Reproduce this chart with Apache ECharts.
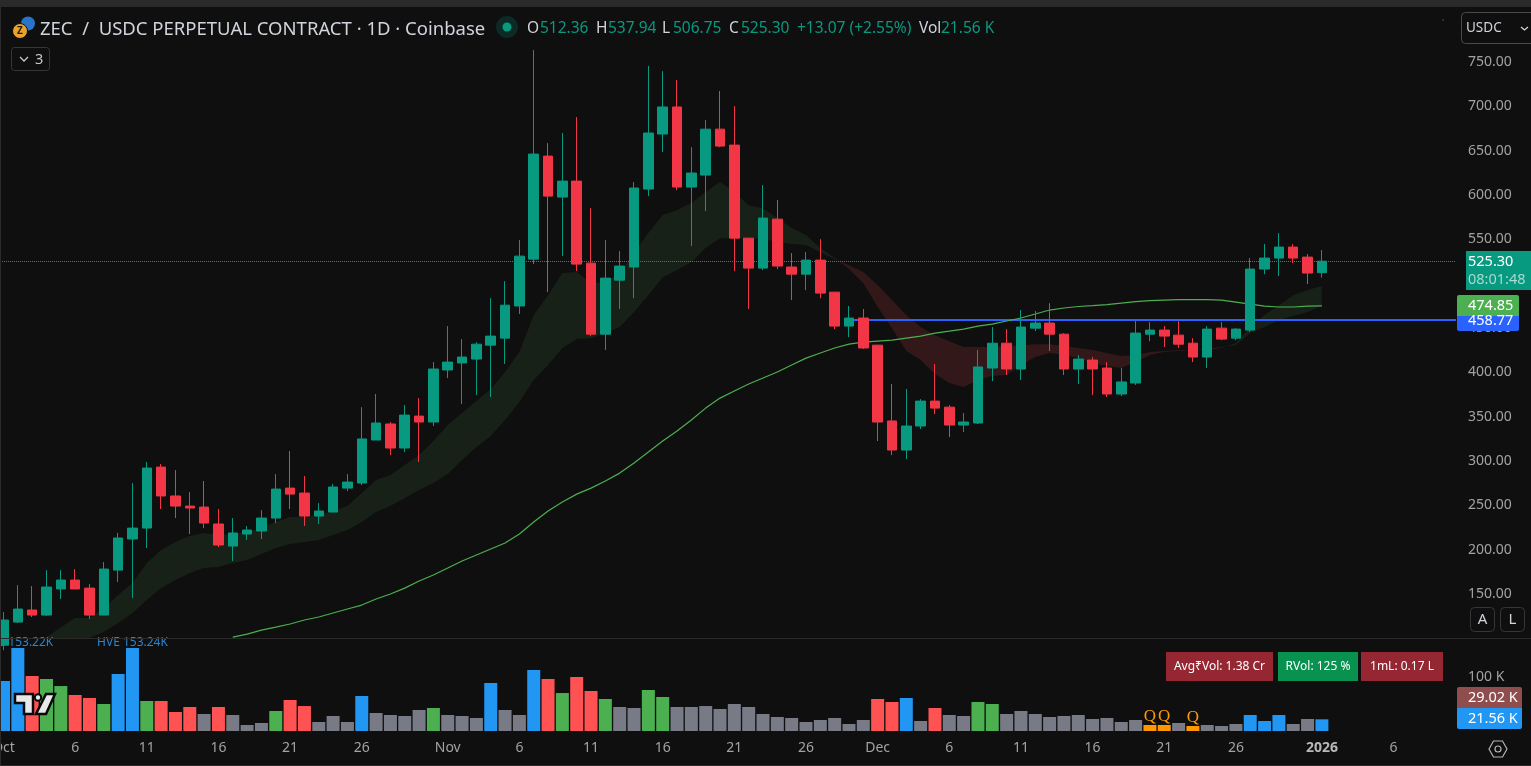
<!DOCTYPE html>
<html>
<head>
<meta charset="utf-8">
<style>html,body{margin:0;padding:0;background:#0f0f0f;overflow:hidden}#main{width:1531px;height:766px}</style>
<script src="https://cdn.jsdelivr.net/npm/echarts@6/dist/echarts.min.js"></script>
</head>
<body>
<div id="main"></div>
<script>
// daily bars, Oct 1 -> Jan 1, the rest of the axis is empty space on the right
var categories = ['Oct','2','3','4','5','6','7','8','9','10','11','12','13','14','15','16','17','18','19','20','21','22','23','24','25','26','27','28','29','30','31',
	'Nov','2','3','4','5','6','7','8','9','10','11','12','13','14','15','16','17','18','19','20','21','22','23','24','25','26','27','28','29','30',
	'Dec','2','3','4','5','6','7','8','9','10','11','12','13','14','15','16','17','18','19','20','21','22','23','24','25','26','27','28','29','30','31',
	'2026','2','3','4','5','6','7','8','9','10'];
var shownDays = ['Oct','Nov','Dec','2026','6','11','16','21','26'];

var opens = [92.3,118.3,131.9,126.2,155.6,165.7,156.6,126.2,176.9,212,224.3,293.1,260.5,249.1,248,228.9,204,217.6,221,235.6,269.4,263.8,237.9,242.4,269.4,275.1,323.6,341.7,314.6,350.6,343.9,402.6,410.5,414.9,430.6,438.5,474.8,527.6,643.8,597.6,615.6,523.1,443,503.9,518.7,606.6,668.7,699.2,608.9,622.4,674.2,656.2,551.3,517.5,572.7,518.7,510.7,526.5,490.4,452.1,461.2,430.6,345.1,312.3,339.4,367.5,360.7,340.5,342.8,404.8,432.8,403.7,449.8,455.5,443,403.7,413.8,404.8,375.5,387.9,443,447.6,441.9,432.8,417.2,449.8,438.5,447.6,516.4,528.8,541.2,529.9,512.36];
var highs = [129.6,160,158.9,176.9,176.9,178.1,161.2,186,218.8,275.1,298.8,296.5,289.7,264.9,277.4,245.8,235.6,226.6,244.6,285.2,311.2,283,252.5,274,285.2,360.7,375.5,343.9,363,370.9,411.5,452.1,437.4,434,483.6,502.8,549.1,763.4,658.5,669.8,687.8,585.1,549.1,536.7,614.5,745.4,739.7,729.6,653.9,684.4,717.2,700.2,551.3,611.1,594.2,534.4,535.6,550.2,490.4,474.8,471.4,430.6,386.8,381.1,369.8,409.4,363,354,425.1,451,448.7,470.2,469.1,478,444.2,419.4,417.2,411.5,404.8,457.8,456.6,452.1,457.8,438.5,452.1,456.6,449.8,528.8,544.6,557,544.6,533.3,537.94];
var lows = [86.6,117.2,124,125.1,144.3,155.6,121.7,126.2,163.4,145.4,201.8,245.8,235.6,217.6,224.3,202.9,187.1,210.8,212,230,245.8,226.6,228.9,242.4,266,272.8,323.6,306.6,310,298.8,339.4,393.5,364.1,374.3,372.1,409.4,465.7,522,490.4,531,514.1,440.8,425.1,471.4,483.6,598.7,648.4,605.5,542.4,581.8,653.9,514.1,471.4,515.3,516.4,481.4,492.7,483.6,448.7,439.6,426.2,322.5,306.6,302.1,336,352.8,326.9,332.6,341.7,390.1,396.9,391.2,446.4,424,396.9,386.8,374.3,372.1,373.2,385.7,435.1,428.5,427.4,411.5,404.8,436.2,436.2,445.3,510.7,508.5,523.1,499.5,506.75];
var closes = [120.6,133,126.2,157.8,165.7,155.6,126.2,178.1,213.1,224.3,292,260.5,249.1,246.9,230,205.2,218.8,222.1,235.6,268.3,262.6,237.9,243.5,270.6,276.2,324.8,342.8,314.6,351.7,343.9,403.7,411.5,417.2,431.7,440.8,475.7,531,646.1,598.7,615.6,522,443,506.2,519.8,607.8,669.8,699.2,608.9,624.7,674.2,655.1,551.3,517.5,573.9,519.8,510.7,526.5,489.3,452.1,461.2,427.4,343.9,312.3,339.4,367.5,359.6,340.5,343.9,406,432.8,403.7,451,455.5,443,403.7,414.9,403.7,375.5,389.1,444.2,447.6,440.8,431.7,417.2,448.7,437.4,448.7,516.4,528.8,541.2,528.8,511.9,525.3];

// the two edges of the shaded ribbon
var ribbonFast = [null,null,86.6,101.3,112.6,122.8,122.8,134.2,148.8,162.3,184.9,199.6,208.6,215.4,218.8,216.5,217.6,219.9,224.3,231.1,236.8,236.8,239.1,243.5,249.1,263.8,278.5,284.2,295.4,306.6,322.5,340.5,354,367.5,381.1,400.3,422.8,464.6,487,511.9,513,500.5,501.7,511.9,534.4,557,577.3,582.9,590.8,603.2,614.5,603.2,588.5,585.1,573.9,562.7,554.7,540.1,528.8,516.4,500.5,473.6,449.8,424,413.8,398,387.9,383.4,391.2,395.8,396.9,408.2,417.2,421.7,419.4,416,410.5,407.1,404.8,411.5,419.4,422.8,424,425.1,425.1,427.4,432.8,451,464.6,475.7,487,492.7,497.2];
var ribbonSlow = [null,null,72.9,79.8,86.6,93.4,100.2,107,117.2,128.5,143.1,156.6,165.7,173.6,179.2,180.3,184.9,188.3,195.1,201.8,206.3,208.6,210.8,216.5,222.1,231.1,242.4,249.1,258.2,267.2,275.1,285.2,301.1,315.7,328.1,346.2,366.4,391.2,408.2,427.4,437.4,438.5,444.2,451,468,487,507.3,515.3,524.2,540.1,551.3,551.3,551.3,550.2,546.8,544.6,543.5,535.6,527.6,520.8,513,498.4,481.4,464.6,451,441.9,435.1,428.5,428.5,428.5,429.6,430.6,431.7,431.7,429.6,427.4,425.1,421.7,418.3,419.4,422.8,424,425.1,425.1,426.2,428.5,430.6,444.2,451,458.9,463.4,468,474.8];
var ribbonRegions = [[2, 58, '#172117'], [58, 85, '#321818'], [85, 92, '#172117']];

var emaLong = [null,null,null,null,null,null,null,null,null,null,null,null,null,null,null,null,101.3,104.7,109.2,112.6,116.1,120.6,124,128.5,133,137.5,144.3,150,156.6,164.6,171.4,179.2,187.1,193.9,200.7,207.4,217.6,231.1,243.5,253.7,262.6,269.4,277.4,286.3,297.7,310,322.5,333.7,346.2,359.6,370.9,378.9,386.8,393.5,400.3,408.2,416,421.7,427.4,431.7,434,435.1,436.2,438.5,440.8,444.2,446.4,448.7,452.1,454.4,457.8,461.2,465.7,470.2,472.5,474.2,475.1,476.3,478,479.7,480.8,481.4,481.9,481.9,481.9,481.4,479.1,476.8,474.6,473.6,473.6,474.6,474.85];

// volume in K, and which colour each bar got: b blue, r red, g green, n grey, o orange
var volumes = [92.3,153.22,101.5,96,83,66.5,61,49.8,105.2,153.24,55.4,55.4,35.1,44.3,31.4,44.3,29.5,11.1,14.8,36.9,57.2,46.1,16.6,27.7,16.6,64.6,33.2,29.5,27.7,38.8,42.5,29.5,27.7,24,88.6,38.8,29.5,112.6,96,70.1,99.7,73.8,59.1,44.3,42.5,75.7,62.8,44.3,44.3,46.1,40.6,49.8,44.3,31.4,25.8,24,16.6,20.3,24,12.9,20.3,59.1,53.5,60.9,18.5,42.5,29.5,27.7,53.5,49.8,31.4,36.9,31.4,25.8,27.7,29.5,22.2,24,16.6,20.3,11.1,11.1,14.8,9.2,11.1,9.2,12.9,29.5,18.5,29.5,12.9,22.2,21.56];
var volumeKinds = ('bbrggrrgbb'+'grrrnrnnng'+'rrnnnbnnnn'+'gnnnbnnbrg'+'rrgnnggnnn'+'nnnnnnnnnn'+'nrrbnrnngg'+'nnnnnnnnnn'+'oononnnbbb'+'nnb').split('');
var volumeColors = {b:'#2196f3', r:'#ff5252', g:'#4caf50', n:'#787b86', o:'#ff9800'};
var hveBars = {1:'HVE 153.22K', 9:'HVE 153.24K'};
var quietBars = [80, 81, 83];

var lastPrice = 525.30;
var levelPrice = 458.77;

var UI_FONT = '"Noto Sans", sans-serif';
var UP = '#089981', DOWN = '#f23645';

var myChart = echarts.init(document.getElementById('main'), null, {renderer:'canvas'});

function txt(x, y, s, color, size, extra) {
	var st = {x:x, y:y, text:s, fill:color, font:(size||14)+'px '+UI_FONT, textVerticalAlign:'middle'};
	for (var k in extra) st[k] = extra[k];
	return {type:'text', z:100, style:st};
}
function box(x, y, w, h, fill, stroke, r) {
	return {type:'rect', z:99, shape:{x:x, y:y, width:w, height:h, r:r||0}, style:{fill:fill, stroke:stroke||null, lineWidth:1}};
}

var graphics = [
	box(0, 0, 1531, 7, '#2a2a2a'),
	box(0, 638, 1531, 1, '#2a2a2a'),
	box(0, 765, 1531, 1, '#2a2a2a'),
	box(0, 7, 1, 759, '#2a2a2a'),
	// coin icons
	{type:'circle', z:99, shape:{cx:28, cy:23.5, r:7}, style:{fill:'#2775ca'}},
	{type:'circle', z:99, shape:{cx:20, cy:31, r:7.5}, style:{fill:'#e8a32c', stroke:'#0f0f0f', lineWidth:1}},
	txt(20, 31.5, 'Z', '#2b1c06', 10, {textAlign:'center', font:'bold 10px '+UI_FONT}),
	txt(40, 29.5, 'ZEC  /  USDC PERPETUAL CONTRACT · 1D · Coinbase', '#d1d4dc', 18.5),
	{type:'circle', z:99, shape:{cx:507, cy:27, r:11}, style:{fill:'#0d2a25'}},
	{type:'circle', z:99, shape:{cx:507, cy:27, r:4.5}, style:{fill:'#089981'}},
	txt(527, 28.5, 'O', '#d1d4dc', 15.5), txt(540, 28.5, '512.36', UP, 15.5),
	txt(596, 28.5, 'H', '#d1d4dc', 15.5), txt(608, 28.5, '537.94', UP, 15.5),
	txt(662, 28.5, 'L', '#d1d4dc', 15.5), txt(673, 28.5, '506.75', UP, 15.5),
	txt(729, 28.5, 'C', '#d1d4dc', 15.5), txt(741, 28.5, '525.30', UP, 15.5),
	txt(797, 28.5, '+13.07 (+2.55%)', UP, 15.5),
	txt(919, 28.5, 'Vol', '#d1d4dc', 15.5), txt(941, 28.5, '21.56 K', UP, 15.5),
	// collapsed indicators button
	box(11.5, 47.5, 38, 23, 'transparent', '#363636', 3),
	{type:'polyline', z:100, shape:{points:[[20,57],[24,61],[28,57]]}, style:{stroke:'#c8c8c8', lineWidth:1.3, fill:null}},
	txt(35, 59.5, '3', '#c8c8c8', 14.5),
	// currency button
	box(1461.5, 12.5, 80, 31, 'transparent', '#4a4a4a', 4),
	txt(1466, 28.5, 'USDC', '#d1d4dc', 13.5),
	{type:'polyline', z:100, shape:{points:[[1521,27],[1524.5,30],[1528,27]]}, style:{stroke:'#d1d4dc', lineWidth:1.3, fill:null}},
	{type:'circle', z:99, shape:{cx:1443, cy:20, r:1}, style:{fill:'#3a3a44'}},
	// A and L buttons
	box(1470.5, 607.5, 24, 24, 'transparent', '#363636', 4), txt(1482.5, 620, 'A', '#d1d4dc', 15, {textAlign:'center'}),
	box(1500.5, 607.5, 24, 24, 'transparent', '#363636', 4), txt(1512.5, 620, 'L', '#d1d4dc', 15, {textAlign:'center'}),
	// last price and level tags
	box(1466, 251, 65, 39, UP),
	txt(1468, 262, '525.30', '#ffffff', 14.5),
	txt(1468, 280, '08:01:48', '#a6dbcf', 14.5),
	box(1457, 295, 62, 21, '#4caf50', null, [2,2,0,0]),
	txt(1468, 306, '474.85', '#ffffff', 14.5),
	box(1457, 316, 62, 15, '#2962ff', null, [0,0,2,2]),
	txt(1468, 321, '458.77', '#ffffff', 14.5),
	box(1457, 687, 65, 21, '#8f4d4d', null, [2,2,0,0]),
	txt(1468, 697.5, '29.02 K', '#ffffff', 14.5),
	box(1457, 708, 65, 21, '#2196f3', null, [0,0,2,2]),
	txt(1468, 718.5, '21.56 K', '#ffffff', 14.5),
	// small stat badges in the volume pane
	box(1166, 652, 107, 29, '#952733'), txt(1219.5, 666.5, 'Avg₹Vol: 1.38 Cr', '#ffffff', 12, {textAlign:'center'}),
	box(1278, 652, 80, 29, '#08914f'), txt(1318, 666.5, 'RVol: 125 %', '#ffffff', 12, {textAlign:'center'}),
	box(1361, 652, 82, 29, '#952733'), txt(1402, 666.5, '1mL: 0.17 L', '#ffffff', 12, {textAlign:'center'}),
	// settings hexagon
	{type:'polygon', z:100, shape:{points:[[1489,749],[1493.5,741],[1502.5,741],[1507,749],[1502.5,757],[1493.5,757]]}, style:{fill:'transparent', stroke:'#b4b4b4', lineWidth:1.2}},
	{type:'circle', z:100, shape:{cx:1498, cy:749, r:3}, style:{fill:'transparent', stroke:'#b4b4b4', lineWidth:1.2}},
	// logo
	{type:'polygon', z:101, shape:{points:[[15,694],[33,694],[33,714],[24,714],[24,703],[15,703]]}, style:{fill:'#e8e8e8', stroke:'#0a0a0a', lineWidth:2.5}},
	{type:'circle', z:101, shape:{cx:38, cy:697.5, r:3.2}, style:{fill:'#e8e8e8', stroke:'#0a0a0a', lineWidth:2}},
	{type:'polygon', z:101, shape:{points:[[46,694],[55,694],[46,714],[36,714]]}, style:{fill:'#e8e8e8', stroke:'#0a0a0a', lineWidth:2.5}}
];

// one polygon per ribbon region, drawn from the row where the region starts
function renderRibbon(params, api) {
	var i = api.value(0);
	var region = ribbonRegions.filter(function (r) { return r[0] === i; })[0];
	if (!region) return null;
	var pts = [], j;
	for (j = region[0]; j <= region[1]; j++) pts.push(api.coord([j, ribbonFast[j]]));
	for (j = region[1]; j >= region[0]; j--) pts.push(api.coord([j, ribbonSlow[j]]));
	return {type:'polygon', shape:{points:pts}, style:{fill:region[2]}};
}

var ribbonRows = [];
ribbonFast.forEach(function (v, i) { if (v != null) ribbonRows.push([i, v, ribbonSlow[i]]); });

var candleRows = opens.map(function (o, i) { return [o, closes[i], lows[i], highs[i]]; });

var volumeRows = volumes.map(function (v, i) {
	var item = {value:v, itemStyle:{color:volumeColors[volumeKinds[i]]}};
	if (hveBars[i]) item.label = {show:true, position:'top', distance:-1, formatter:hveBars[i], color:'#2a85d0', fontSize:12, fontFamily:UI_FONT};
	if (quietBars.indexOf(i) >= 0) item.label = {show:true, position:'top', distance:0, formatter:'Q', color:'#ff9800', fontSize:17, fontFamily:'"Liberation Serif", serif'};
	return item;
});

var option = {
	backgroundColor:'#0f0f0f',
	animation:false,
	graphic:{elements:graphics},
	grid:[
		{left:-3.67, top:17.6, width:1461.7, height:620.7, outerBoundsMode:'none'},
		{left:-3.67, top:638, width:1461.7, height:93, outerBoundsMode:'none'}
	],
	xAxis:[
		{type:'category', gridIndex:0, data:categories, show:false},
		{type:'category', gridIndex:1, data:categories,
			axisLine:{show:false}, axisTick:{show:false},
			axisLabel:{
				interval:function (i, v) { return shownDays.indexOf(v) >= 0; },
				margin:10, color:'#a3a3a3', fontSize:14, fontFamily:UI_FONT, hideOverlap:false,
				formatter:function (v) { return v === '2026' ? '{y|2026}' : v; },
				rich:{y:{fontWeight:'bold', color:'#b8b8b8', fontSize:14, fontFamily:UI_FONT}}
			}
		}
	],
	yAxis:[
		{type:'value', gridIndex:0, position:'right', min:100, max:800, interval:50, splitLine:{show:false}, axisLine:{show:false}, axisTick:{show:false},
			axisLabel:{margin:10, color:'#a3a3a3', fontSize:14, fontFamily:UI_FONT, formatter:function (v) { return (v < 150 || v > 750) ? '' : v.toFixed(2); }}},
		{type:'value', gridIndex:1, position:'right', min:0, max:171.7, interval:100, splitLine:{show:false}, axisLine:{show:false}, axisTick:{show:false},
			axisLabel:{margin:10, color:'#a3a3a3', fontSize:14, fontFamily:UI_FONT, formatter:function (v) { return v === 100 ? '100 K' : ''; }}}
	],
	series:[
		{type:'custom', name:'ribbon', xAxisIndex:0, yAxisIndex:0, z:1, clip:true, silent:true, renderItem:renderRibbon, encode:{x:0, y:[1,2]}, data:ribbonRows},
		{type:'line', name:'ema', xAxisIndex:0, yAxisIndex:0, z:2, data:emaLong, showSymbol:false, silent:true, lineStyle:{color:'#4caf50', width:1.2},
			markLine:{silent:true, symbol:'none', z:2, label:{show:false}, animation:false, data:[
				[{xAxis:0, yAxis:lastPrice, x:0, lineStyle:{color:UP, type:'dotted', width:1}}, {xAxis:101, yAxis:lastPrice, x:1456}],
				[{xAxis:59, yAxis:levelPrice, lineStyle:{color:'#2962ff', type:'solid', width:2}}, {xAxis:101, yAxis:levelPrice, x:1456}]
			]}
		},
		{type:'candlestick', name:'price', xAxisIndex:0, yAxisIndex:0, z:3, barWidth:10, data:candleRows, silent:true,
			itemStyle:{color:UP, color0:DOWN, borderColor:UP, borderColor0:DOWN, borderWidth:1}},
		{type:'bar', name:'volume', xAxisIndex:1, yAxisIndex:1, barWidth:13, data:volumeRows, silent:true}
	]
};
myChart.setOption(option);
</script>
</body>
</html>
